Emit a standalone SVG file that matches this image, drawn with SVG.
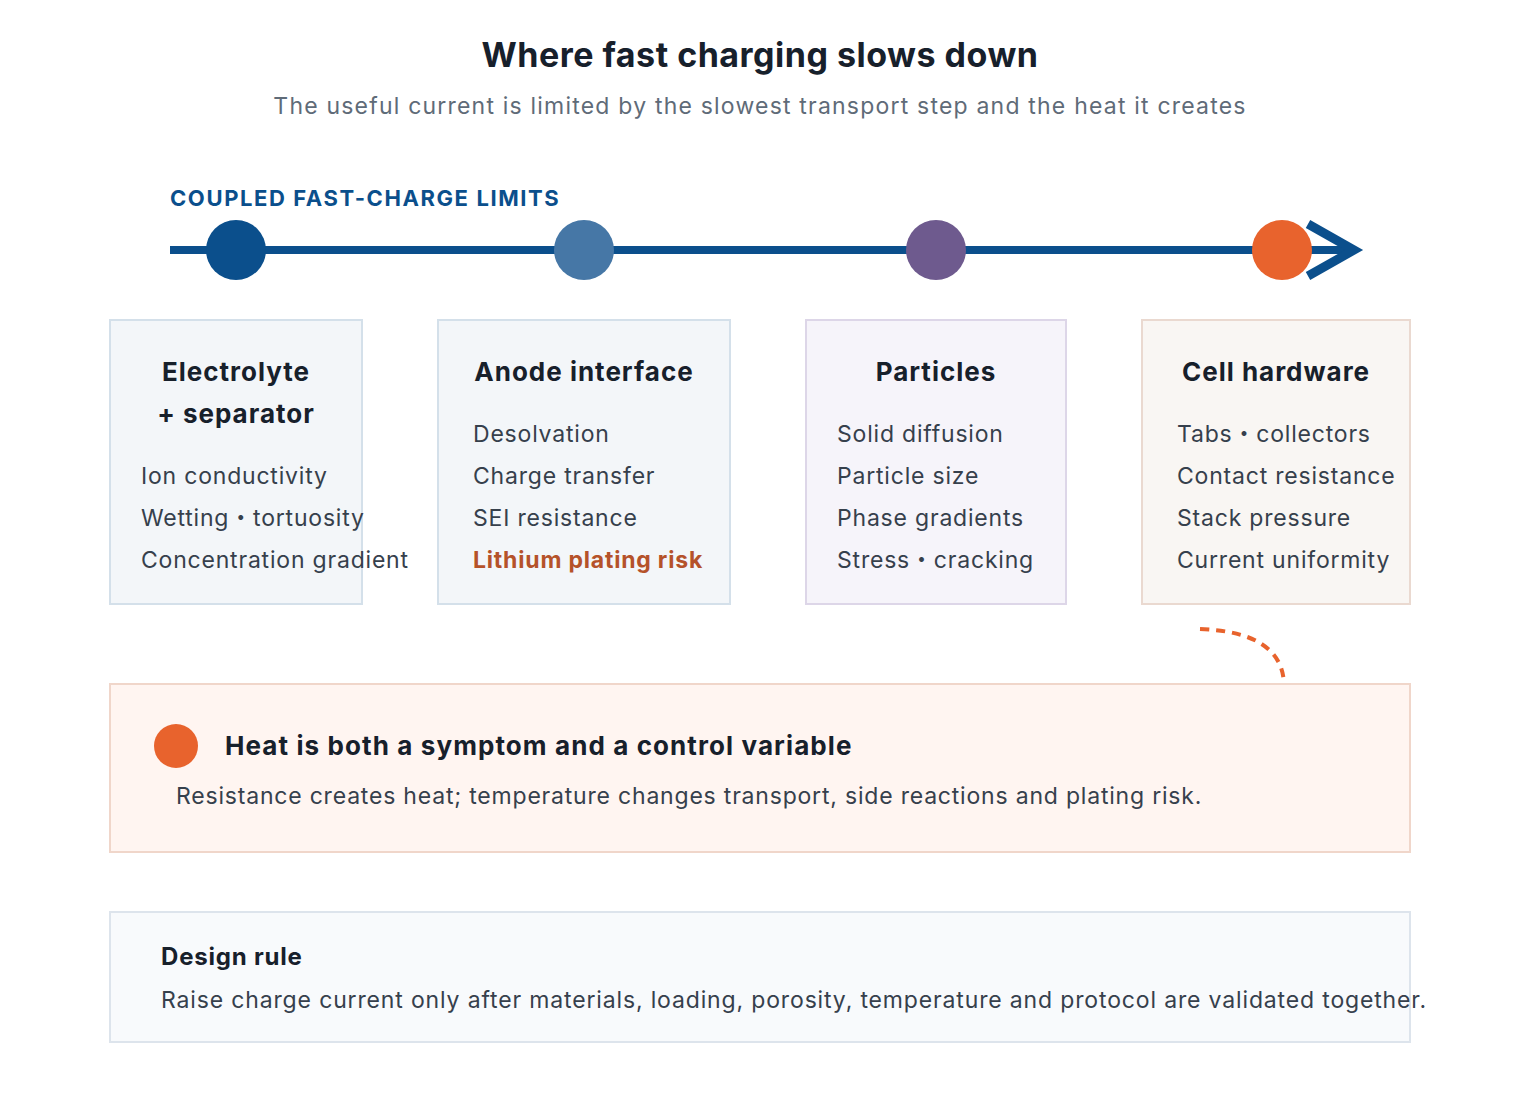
<svg xmlns="http://www.w3.org/2000/svg" width="1520" height="1120" viewBox="0 0 1520 1120">
<style>
text{font-family:Inter,"Noto Sans","Liberation Sans","Noto Sans CJK JP",sans-serif}
.h{font-size:26px;font-weight:700;fill:#17202b;text-anchor:middle;letter-spacing:1px}
.b{font-size:23px;fill:#36404c;letter-spacing:0.8px}
.card{stroke-width:2}
</style>
<rect width="1520" height="1120" fill="#fff"/>
<text x="760" y="67" text-anchor="middle" style="font-size:34px;font-weight:700;fill:#17202b;letter-spacing:0.5px">Where fast charging slows down</text>
<text x="760" y="114" text-anchor="middle" style="font-size:23px;fill:#5f6b78;letter-spacing:1.2px">The useful current is limited by the slowest transport step and the heat it creates</text>
<text x="170" y="206" style="font-size:22px;font-weight:700;fill:#0b4f8c;letter-spacing:1.6px">COUPLED FAST-CHARGE LIMITS</text>
<g id="connectors">
<line x1="170" y1="250" x2="1350" y2="250" stroke="#0b4f8c" stroke-width="8"/>
<polyline points="1308,224 1354,250 1308,276" fill="none" stroke="#0b4f8c" stroke-width="9"/>
<path d="M1200 629 Q1282 632 1284 684" fill="none" stroke="#e8632d" stroke-width="4" stroke-dasharray="9 7"/>
</g>
<g id="dots">
<circle cx="236" cy="250" r="30" fill="#0b4f8c"/>
<circle cx="584" cy="250" r="30" fill="#4677a6"/>
<circle cx="936" cy="250" r="30" fill="#6e5a8e"/>
<circle cx="1282" cy="250" r="30" fill="#e8632d"/>
</g>
<g id="n1">
<rect class="card" x="110" y="320" width="252" height="284" fill="#f3f6f9" stroke="#d4e0ea"/>
<text class="h" x="236" y="381">Electrolyte</text>
<text class="h" x="236" y="423">+ separator</text>
<text class="b" x="141" y="484">Ion conductivity</text>
<text class="b" x="141" y="526">Wetting・tortuosity</text>
<text class="b" x="141" y="568">Concentration gradient</text>
</g>
<g id="n2">
<rect class="card" x="438" y="320" width="292" height="284" fill="#f3f6f9" stroke="#d4e0ea"/>
<text class="h" x="584" y="381">Anode interface</text>
<text class="b" x="473" y="442">Desolvation</text>
<text class="b" x="473" y="484">Charge transfer</text>
<text class="b" x="473" y="526">SEI resistance</text>
<text class="b" x="473" y="568" style="fill:#b5522a;font-weight:700">Lithium plating risk</text>
</g>
<g id="n3">
<rect class="card" x="806" y="320" width="260" height="284" fill="#f6f4fa" stroke="#ddd6e8"/>
<text class="h" x="936" y="381">Particles</text>
<text class="b" x="837" y="442">Solid diffusion</text>
<text class="b" x="837" y="484">Particle size</text>
<text class="b" x="837" y="526">Phase gradients</text>
<text class="b" x="837" y="568">Stress・cracking</text>
</g>
<g id="n4">
<rect class="card" x="1142" y="320" width="268" height="284" fill="#f9f6f3" stroke="#ead9d0"/>
<text class="h" x="1276" y="381">Cell hardware</text>
<text class="b" x="1177" y="442">Tabs・collectors</text>
<text class="b" x="1177" y="484">Contact resistance</text>
<text class="b" x="1177" y="526">Stack pressure</text>
<text class="b" x="1177" y="568">Current uniformity</text>
</g>
<g id="heat">
<rect class="card" x="110" y="684" width="1300" height="168" fill="#fff5f1" stroke="#f0d6ca"/>
<circle cx="176" cy="746" r="22" fill="#e8632d"/>
<text x="225" y="755" style="font-size:26px;font-weight:700;fill:#17202b;letter-spacing:1.1px">Heat is both a symptom and a control variable</text>
<text class="b" x="176" y="804">Resistance creates heat; temperature changes transport, side reactions and plating risk.</text>
</g>
<g id="rule">
<rect class="card" x="110" y="912" width="1300" height="130" fill="#f8fafc" stroke="#dde4ec"/>
<text x="161" y="965" style="font-size:24px;font-weight:700;fill:#17202b;letter-spacing:0.8px">Design rule</text>
<text class="b" x="161" y="1008" style="letter-spacing:0.85px">Raise charge current only after materials, loading, porosity, temperature and protocol are validated together.</text>
</g>
</svg>
